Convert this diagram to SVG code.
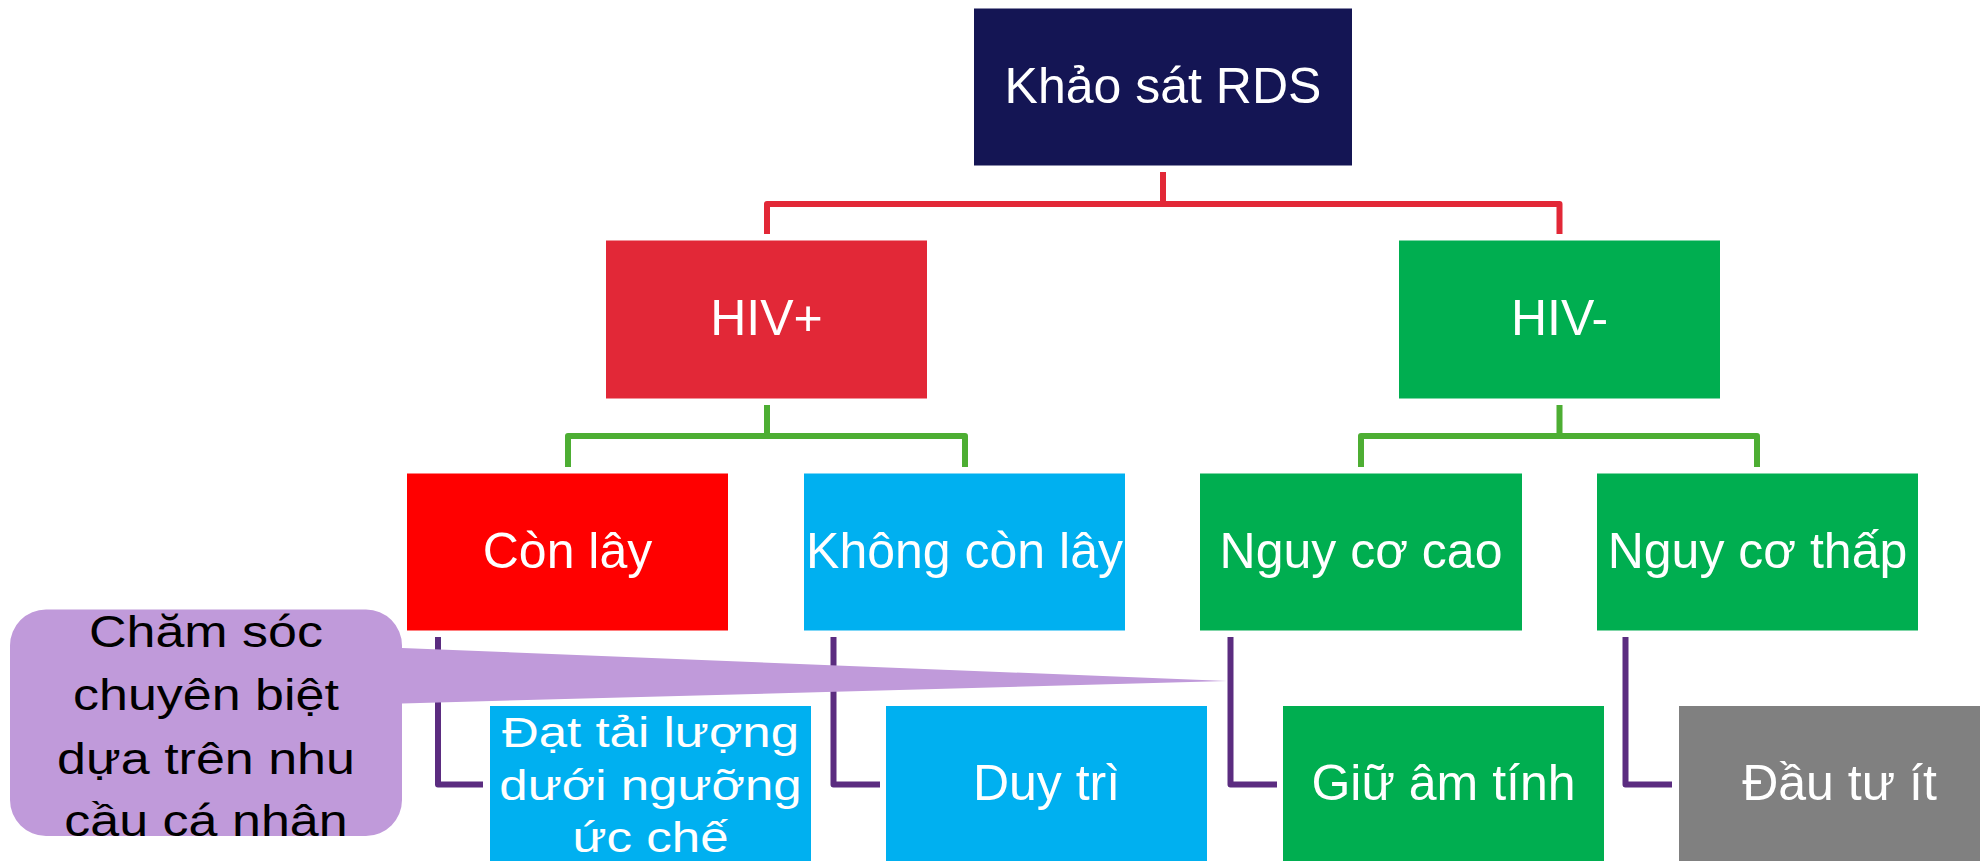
<svg xmlns="http://www.w3.org/2000/svg" width="1980" height="861" viewBox="0 0 1980 861">
<style>
.lbl{font-family:"Liberation Sans",Arial,sans-serif;font-size:50px;fill:#fff;text-anchor:middle}
.red{fill:none;stroke:#E22837;stroke-width:6;stroke-linejoin:round}
.grn{fill:none;stroke:#4DAE33;stroke-width:6;stroke-linejoin:round}
.pur{fill:none;stroke:#5B2C80;stroke-width:6;stroke-linejoin:round}
</style>
<rect width="1980" height="861" fill="#fff"/>
<g id="connectors">
<path class="red" d="M1163 172V204M767 234V204H1559.5V234"/>
<path class="grn" d="M767 405V436M568 467V436H965V467"/>
<path class="grn" d="M1559.5 405V436M1361 467V436H1757V467"/>
<path class="pur" d="M438 637V784.5H483"/>
<path class="pur" d="M833.5 637V784.5H880"/>
<path class="pur" d="M1230.5 637V784.5H1277"/>
<path class="pur" d="M1625.5 637V784.5H1672"/>
</g>
<g id="n-root"><rect x="974" y="8.5" width="378" height="157" fill="#141554"/><text class="lbl" x="1163" y="103">Khảo sát RDS</text></g>
<g id="n-hivpos"><rect x="606" y="240.5" width="321" height="158" fill="#E22837"/><text class="lbl" x="766.5" y="335">HIV+</text></g>
<g id="n-hivneg"><rect x="1399" y="240.5" width="321" height="158" fill="#00AE50"/><text class="lbl" x="1559.5" y="335">HIV-</text></g>
<g id="n-conlay"><rect x="407" y="473.5" width="321" height="157" fill="#FF0000"/><text class="lbl" x="567.5" y="568">Còn lây</text></g>
<g id="n-khongconlay"><rect x="804" y="473.5" width="321" height="157" fill="#00B0F0"/><text class="lbl" x="964.5" y="568">Không còn lây</text></g>
<g id="n-nguycocao"><rect x="1200" y="473.5" width="322" height="157" fill="#00AE50"/><text class="lbl" x="1361" y="568">Nguy cơ cao</text></g>
<g id="n-nguycothap"><rect x="1597" y="473.5" width="321" height="157" fill="#00AE50"/><text class="lbl" x="1757.5" y="568">Nguy cơ thấp</text></g>
<g id="n-dattai"><rect x="490" y="706" width="321" height="157" fill="#00B0F0"/>
<text class="lbl" style="font-size:51px" transform="matrix(1 0 0 0.83 0 0)"><tspan x="650.5" y="900">Đạt tải lượng</tspan><tspan x="650.5" y="963.3">dưới ngưỡng</tspan><tspan x="650.5" y="1026.5">ức chế</tspan></text></g>
<g id="n-duytri"><rect x="886" y="706" width="321" height="157" fill="#00B0F0"/><text class="lbl" x="1046.5" y="800">Duy trì</text></g>
<g id="n-giuamtinh"><rect x="1283" y="706" width="321" height="157" fill="#00AE50"/><text class="lbl" x="1443.5" y="800">Giữ âm tính</text></g>
<g id="n-dautuit"><rect x="1679" y="706" width="321" height="157" fill="#808080"/><text class="lbl" x="1839.5" y="800">Đầu tư ít</text></g>
<g id="n-callout">
<path d="M46 609.5H366A36 36 0 0 1 402 645.5V648L1227 681L402 703.5V800A36 36 0 0 1 366 836H46A36 36 0 0 1 10 800V645.5A36 36 0 0 1 46 609.5Z" fill="#C09ADA"/>
<text style="font-family:'Liberation Sans',Arial,sans-serif;font-size:52px;fill:#000;text-anchor:middle" transform="matrix(1 0 0 0.85 0 0)"><tspan x="206" y="761">Chăm sóc</tspan><tspan x="206" y="835.3">chuyên biệt</tspan><tspan x="206" y="910.6">dựa trên nhu</tspan><tspan x="206" y="983.5">cầu cá nhân</tspan></text>
</g>
</svg>
